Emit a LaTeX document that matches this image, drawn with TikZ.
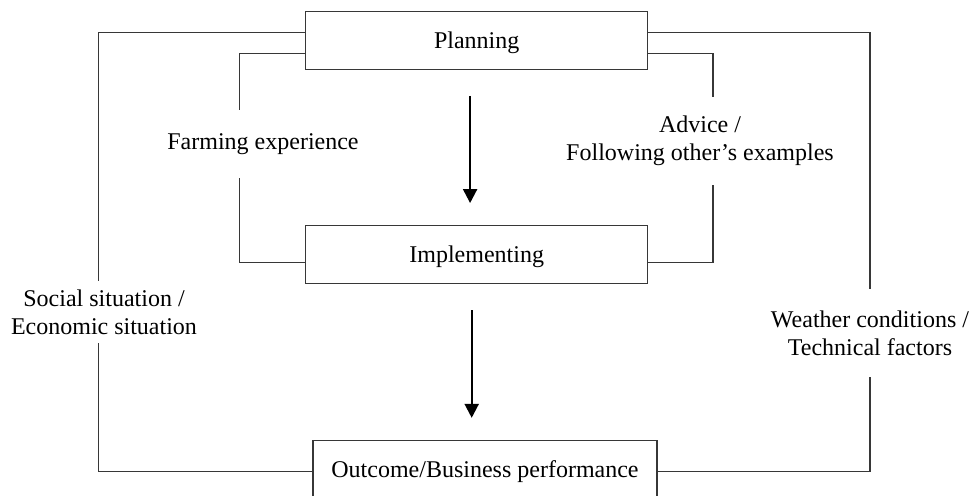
\documentclass[tikz,border=0pt]{standalone}
\usepackage{fontspec}
\setmainfont{Liberation Serif}
\usepackage{tikz}
\usetikzlibrary{positioning, calc, arrows.meta}
\definecolor{lnGray}{RGB}{55, 55, 55}
\tikzset{
    base/.style={
        font=\fontsize{12}{14}\selectfont,
        align=center
    },
    stage/.style={
        base,
        rectangle,
        draw=lnGray,
        line width=0.65pt,
        fill=white,
        minimum width=171pt,
        minimum height=29pt,
        text height=10.5pt,
        text depth=2.5pt,
        inner sep=0pt
    },
    factor/.style={
        base,
        inner sep=0pt
    },
    link/.style={
        draw=lnGray,
        line width=0.65pt
    },
    flow/.style={
        -{Triangle[width=7pt, length=7pt]},
        line width=1.1pt,
        color=black
    }
}

\begin{document}
\begin{tikzpicture}[x=0.5pt, y=-0.5pt]
  \useasboundingbox (0,0) rectangle (976,496);

  % Stages
  \node[stage] (plan) at (476.7,40.2) {Planning};
  \node[stage] (impl) at (476.7,254.7) {Implementing};
  \node[stage, minimum width=172pt] (outcome) at (485,469.5) {Outcome/Business performance};

  % Influencing factors
  \node[factor, minimum height=34pt] (farm) at (263,144) {Farming experience};
  \node[factor, minimum height=44pt] (advice) at (700,141) {Advice /\\Following other's examples};
  \node[factor, minimum height=31pt] (social) at (104,312) {Social situation /\\Economic situation};
  \node[factor, minimum height=44pt] (weather) at (870,333) {Weather conditions /\\Technical factors};

  % Line positions
  \coordinate (ol) at (98.3,0);
  \coordinate (il) at (239.3,0);
  \coordinate (ir) at (713,0);
  \coordinate (or) at (870,0);

  % Inner loop
  \draw[link] ([yshift=-6.5pt]plan.west) -| (il |- farm.north);
  \draw[link] (il |- farm.south) |- ([yshift=-3.8pt]impl.west);
  \draw[link] ([yshift=-6.5pt]plan.east) -| (ir |- advice.north);
  \draw[link] (ir |- advice.south) |- ([yshift=-3.8pt]impl.east);

  % Outer loop
  \draw[link] ([yshift=3.75pt]plan.west) -| (ol |- social.north);
  \draw[link] (ol |- social.south) |- ([yshift=-1.1pt]outcome.west);
  \draw[link] ([yshift=3.75pt]plan.east) -| (or |- weather.north);
  \draw[link] (or |- weather.south) |- ([yshift=-1.1pt]outcome.east);

  % Main flow
  \draw[flow, shorten <=13pt, shorten >=11pt] ([xshift=-3.3pt]plan.south) -- ([xshift=-3.3pt]impl.north);
  \draw[flow, shorten <=13pt, shorten >=11pt] ([xshift=-2.5pt]impl.south) -- ([xshift=-2.5pt]impl.south |- outcome.north);
\end{tikzpicture}
\end{document}
